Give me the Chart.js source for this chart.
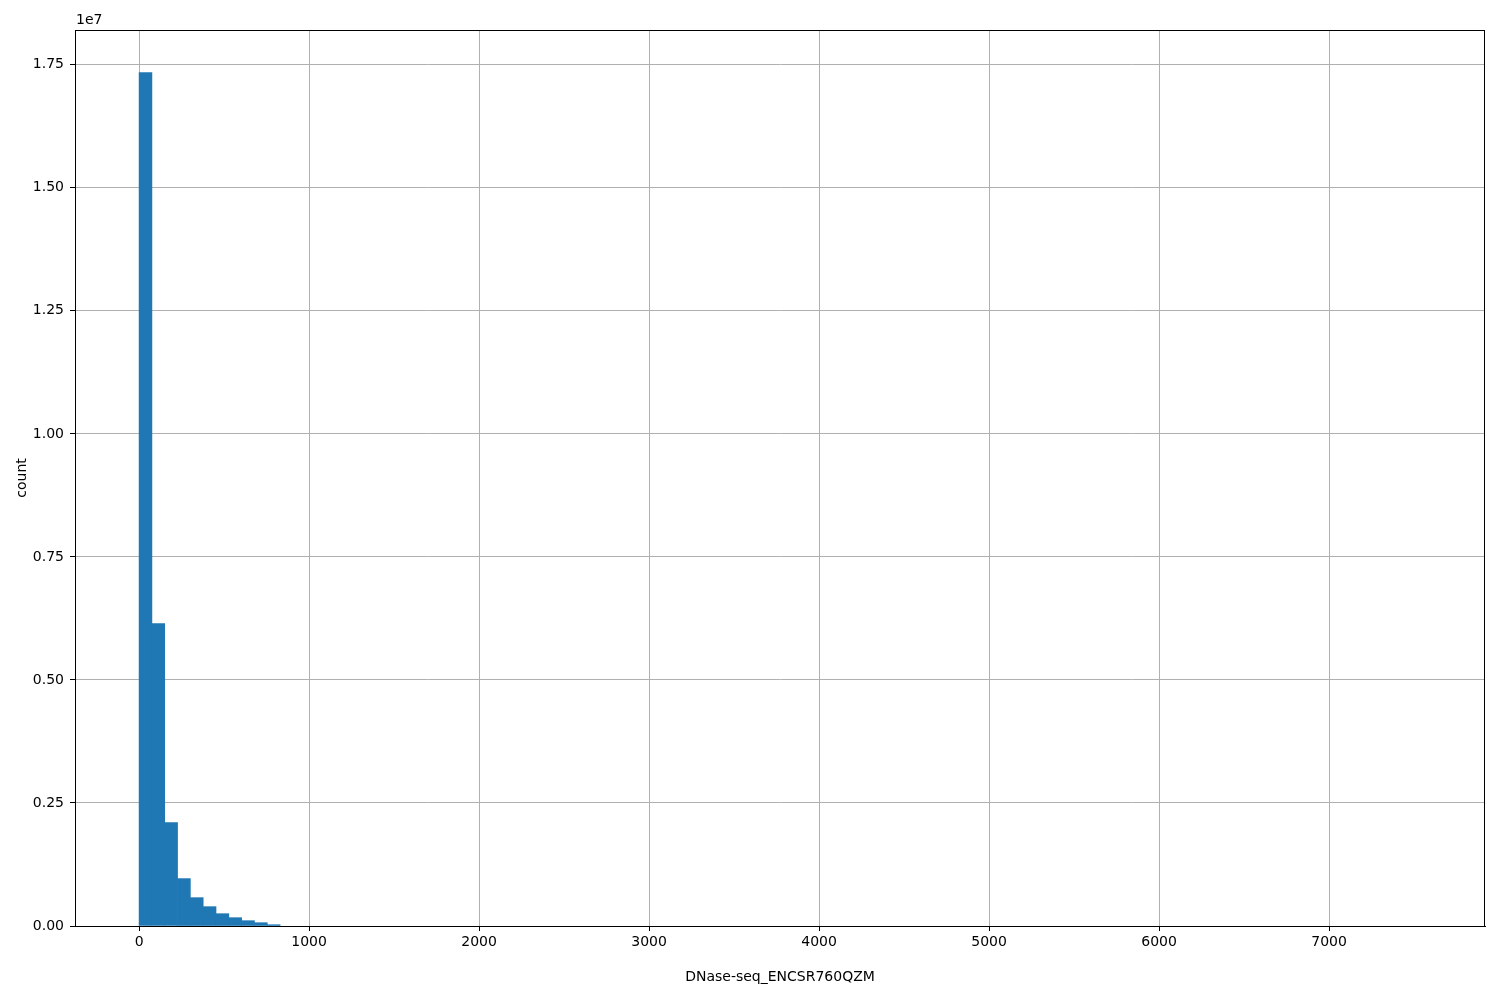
<!DOCTYPE html>
<html>
<head>
<meta charset="utf-8">
<script src="https://cdn.jsdelivr.net/npm/chart.js@4/dist/chart.umd.min.js"></script>
<style>
  html, body { margin: 0; padding: 0; background: #ffffff; }
  canvas { display: block; }
</style>
</head>
<body>
<canvas id="histChart" width="1500" height="1000"></canvas>
<script>
// Histogram of DNase-seq_ENCSR760QZM, 100 bins from 0 to 7540
const binStart = 0;
const binWidth = 75.4;
const counts = [
    17340000, 6145000, 2100000, 963000, 576000, 393000, 250000, 169000, 108000, 67000,
    26000, 0, 0, 0, 0, 0, 0, 0, 0, 0,
    0, 0, 0, 0, 0, 0, 0, 0, 0, 0,
    0, 0, 0, 0, 0, 0, 0, 0, 0, 0,
    0, 0, 0, 0, 0, 0, 0, 0, 0, 0,
    0, 0, 0, 0, 0, 0, 0, 0, 0, 0,
    0, 0, 0, 0, 0, 0, 0, 0, 0, 0,
    0, 0, 0, 0, 0, 0, 0, 0, 0, 0,
    0, 0, 0, 0, 0, 0, 0, 0, 0, 0,
    0, 0, 0, 0, 0, 0, 0, 0, 0, 0
];
const xTicks = [0, 1000, 2000, 3000, 4000, 5000, 6000, 7000];
const yTicks = [0, 2500000, 5000000, 7500000, 10000000, 12500000, 15000000, 17500000];
const xLabel = 'DNase-seq_ENCSR760QZM';
const yLabel = 'count';
const yOffsetText = '1e7';

const FONT = 'DejaVu Sans';
const dataMax = binStart + binWidth * counts.length;
const xPad = (dataMax - binStart) * 0.05;
const yMax = Math.max(...counts) * 1.05;

// empty bins are skipped so no hairline is drawn on the baseline
const points = counts.map((c, i) => ({ x: binStart + (i + 0.5) * binWidth, y: c > 0 ? c : null }));

// frame around the plot area plus the "1e7" offset text
const framePlugin = {
    id: 'frame',
    afterDraw(chart) {
        const { ctx, chartArea } = chart;
        ctx.save();
        ctx.strokeStyle = '#000000';
        ctx.lineWidth = 1;
        ctx.strokeRect(chartArea.left + 0.5, chartArea.top + 0.5,
            chartArea.right - chartArea.left - 1, chartArea.bottom - chartArea.top);
        ctx.fillStyle = '#000000';
        ctx.font = '14px "' + FONT + '"';
        ctx.textAlign = 'left';
        ctx.textBaseline = 'bottom';
        ctx.fillText(yOffsetText, chartArea.left + 1, chartArea.top - 3);
        ctx.restore();
    }
};

new Chart(document.getElementById('histChart'), {
    type: 'bar',
    data: {
        datasets: [{
            data: points,
            backgroundColor: '#1f77b4',
            borderWidth: 0,
            barPercentage: 1.0,
            categoryPercentage: 1.0,
            grouped: false,
            skipNull: true
        }]
    },
    options: {
        responsive: false,
        animation: false,
        devicePixelRatio: 1,
        layout: { padding: { left: 10, right: 15, top: 30, bottom: 0 } },
        plugins: {
            legend: { display: false },
            tooltip: { enabled: false }
        },
        scales: {
            x: {
                type: 'linear',
                z: 1,
                min: binStart - xPad,
                max: dataMax + xPad,
                offset: false,
                afterBuildTicks: (scale) => { scale.ticks = xTicks.map(v => ({ value: v })); },
                afterFit: (scale) => { scale.height = 74; },
                ticks: {
                    color: '#000000',
                    font: { family: FONT, size: 14 },
                    padding: 3,
                    maxRotation: 0,
                    callback: (v) => String(v)
                },
                grid: {
                    offset: false,
                    color: '#b0b0b0',
                    lineWidth: 1,
                    tickColor: '#000000',
                    tickLength: 5,
                    drawTicks: true
                },
                border: { display: true, color: '#000000', width: 1 },
                title: {
                    display: true,
                    text: xLabel,
                    color: '#000000',
                    font: { family: FONT, size: 14 },
                    padding: { top: 0, bottom: 14 }
                }
            },
            y: {
                type: 'linear',
                z: 1,
                min: 0,
                max: yMax,
                afterBuildTicks: (scale) => { scale.ticks = yTicks.map(v => ({ value: v })); },
                afterFit: (scale) => { scale.width = 65; },
                ticks: {
                    color: '#000000',
                    font: { family: FONT, size: 14 },
                    padding: 6,
                    callback: (v) => (v / 1e7).toFixed(2)
                },
                grid: {
                    color: '#b0b0b0',
                    lineWidth: 1,
                    tickColor: '#000000',
                    tickLength: 5
                },
                border: { display: true, color: '#000000', width: 1 },
                title: {
                    display: true,
                    text: yLabel,
                    color: '#000000',
                    font: { family: FONT, size: 14 },
                    padding: { top: 4, bottom: 0 }
                }
            }
        }
    },
    plugins: [framePlugin]
});
</script>
</body>
</html>
